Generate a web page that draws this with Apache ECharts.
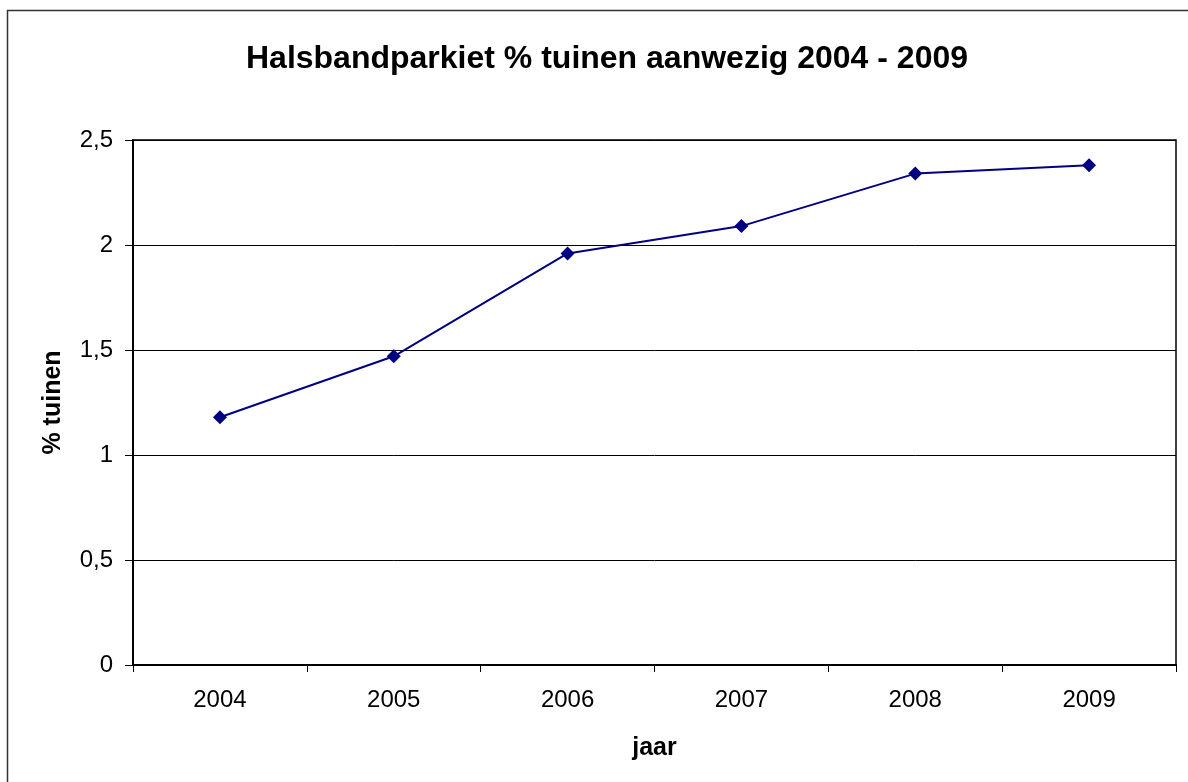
<!DOCTYPE html>
<html>
<head>
<meta charset="utf-8">
<script src="https://cdn.jsdelivr.net/npm/echarts@6/dist/echarts.min.js"></script>
<style>
  html, body { margin: 0; padding: 0; background: #fff; }
  #chart { width: 1188px; height: 782px; }
</style>
</head>
<body>
<div id="chart"></div>
<script>
// jaren en % tuinen
const years = ['2004', '2005', '2006', '2007', '2008', '2009']
const tuinen = [1.18, 1.47, 1.96, 2.09, 2.34, 2.38]
const yTicks = [0, 0.5, 1, 1.5, 2, 2.5]

const font = '"Liberation Sans", Arial, sans-serif'
const myChart = echarts.init(document.getElementById('chart'))

const option = {
  backgroundColor: '#fff',
  animation: false,
  title: {
    text: 'Halsbandparkiet % tuinen aanwezig 2004 - 2009',
    left: 602,
    textAlign: 'center',
    top: 38,
    textStyle: { fontFamily: font, fontSize: 32, fontWeight: 'bold', color: '#000' }
  },
  graphic: [{
    type: 'rect',
    shape: { x: 7.5, y: 10.5, width: 1200, height: 800 },
    style: { fill: 'none', stroke: '#333', lineWidth: 1.5 },
    silent: true
  }],
  grid: {
    left: 133,
    top: 140,
    right: 12,
    bottom: 117,
    show: true,
    borderColor: '#000',
    borderWidth: 1.5
  },
  xAxis: {
    type: 'category',
    data: years,
    boundaryGap: true,
    name: 'jaar',
    nameLocation: 'middle',
    nameGap: 71,
    nameTextStyle: { fontFamily: font, fontSize: 25, fontWeight: 'bold', color: '#000' },
    axisLine: { lineStyle: { color: '#000', width: 2 } },
    axisTick: { show: true, length: 7, lineStyle: { color: '#000' } },
    axisLabel: { fontFamily: font, fontSize: 24, color: '#000', margin: 23 }
  },
  yAxis: {
    type: 'value',
    min: yTicks[0],
    max: yTicks[yTicks.length - 1],
    interval: 0.5,
    name: '% tuinen',
    nameLocation: 'middle',
    nameGap: 67,
    nameTextStyle: { fontFamily: font, fontSize: 25, fontWeight: 'bold', color: '#000' },
    axisLine: { show: true, lineStyle: { color: '#000', width: 2 } },
    axisTick: { show: true, length: 8, lineStyle: { color: '#000' } },
    axisLabel: {
      fontFamily: font,
      fontSize: 24,
      color: '#000',
      margin: 20,
      formatter: v => String(v).replace('.', ',')
    },
    splitLine: { show: true, lineStyle: { color: '#000', width: 1 } }
  },
  series: [{
    type: 'line',
    data: tuinen,
    symbol: 'diamond',
    symbolSize: 14,
    itemStyle: { color: '#000080' },
    lineStyle: { color: '#000080', width: 2 }
  }]
}
myChart.setOption(option)
</script>
</body>
</html>
